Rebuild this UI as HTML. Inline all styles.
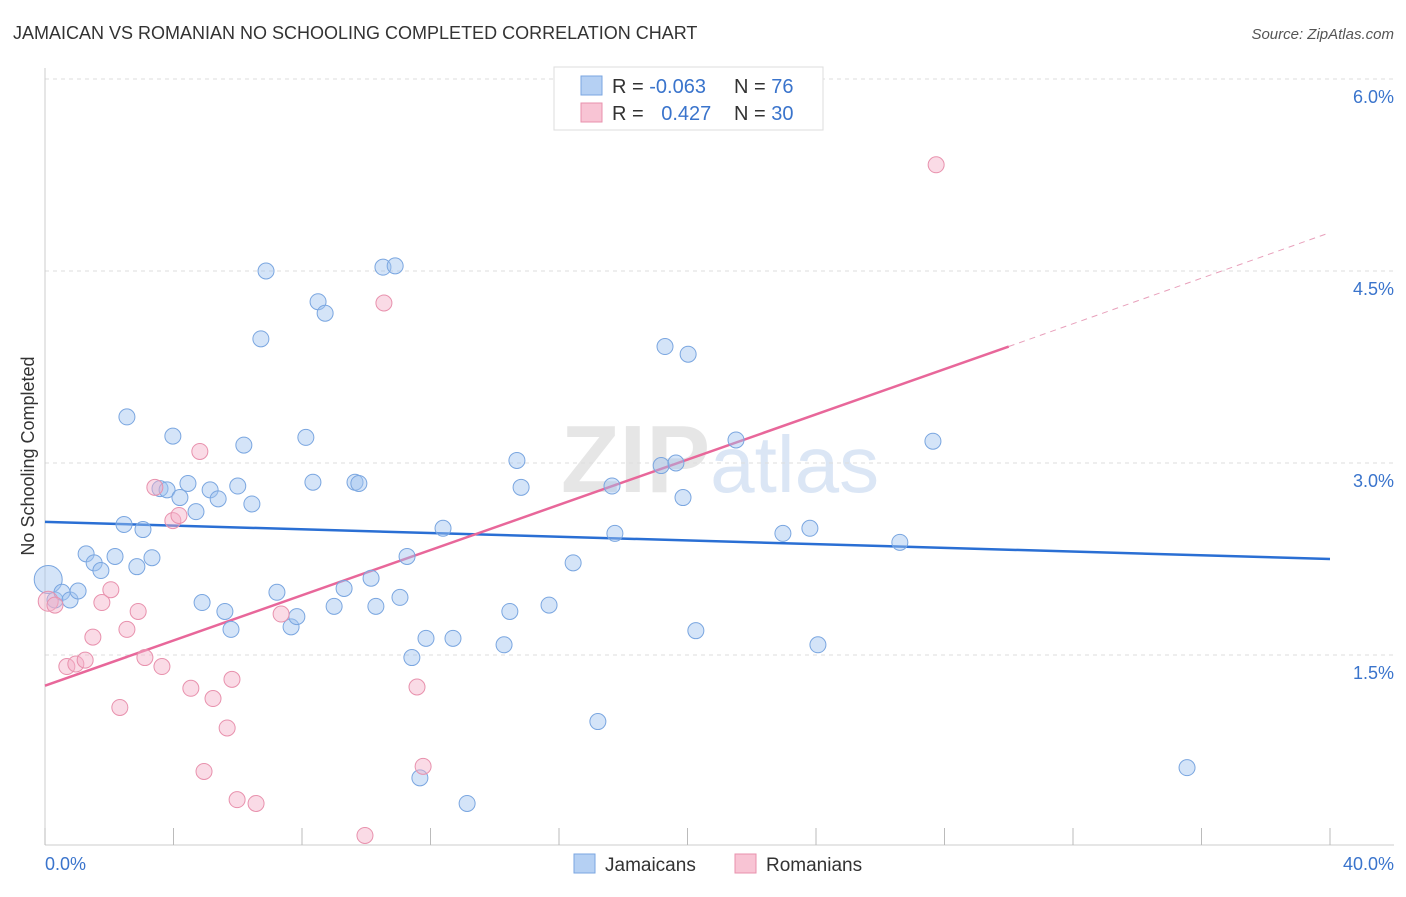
<!DOCTYPE html>
<html><head><meta charset="utf-8">
<style>
body{margin:0;background:#fff;font-family:"Liberation Sans",sans-serif;}
svg text{font-family:"Liberation Sans",sans-serif;}
</style></head>
<body>
<svg id="chart" width="1406" height="892" viewBox="0 0 1406 892" xmlns="http://www.w3.org/2000/svg">
<text x="13" y="39" font-size="18" fill="#333">JAMAICAN VS ROMANIAN NO SCHOOLING COMPLETED CORRELATION CHART</text>
<text x="1394" y="39" font-size="15" fill="#555" text-anchor="end" font-style="italic">Source: ZipAtlas.com</text>
<text x="720" y="492" font-size="96" text-anchor="middle" fill="#e6e6e6" font-family="Liberation Serif" font-weight="bold">ZIP<tspan fill="#dbe6f5" font-family="Liberation Sans" font-weight="normal" font-size="80">atlas</tspan></text>
<g id="grid"></g>
<g id="axes"></g>
<g id="trend"></g>
<g id="points"></g>
<text transform="translate(34,456) rotate(-90)" font-size="18" fill="#333" text-anchor="middle">No Schooling Completed</text>
<g>
<rect x="554" y="67" width="269" height="63" fill="#fff" stroke="#ddd"/>
<rect x="581" y="76" width="21" height="19" fill="#b5d0f3" stroke="#7aa6e0"/>
<rect x="581" y="103" width="21" height="19" fill="#f8c4d4" stroke="#e891ad"/>
<text x="612" y="93" font-size="20" fill="#333">R = <tspan fill="#3a74cc">-0.063</tspan></text>
<text x="734" y="93" font-size="20" fill="#333">N = <tspan fill="#3a74cc"> 76</tspan></text>
<text x="612" y="120" font-size="20" fill="#333">R = <tspan fill="#3a74cc" dx="12">0.427</tspan></text>
<text x="734" y="120" font-size="20" fill="#333">N = <tspan fill="#3a74cc">30</tspan></text>
</g>
<g>
<rect x="574" y="854" width="21" height="19" fill="#b5d0f3" stroke="#7aa6e0"/>
<text x="605" y="871" font-size="19" fill="#333">Jamaicans</text>
<rect x="735" y="854" width="21" height="19" fill="#f8c4d4" stroke="#e891ad"/>
<text x="766" y="871" font-size="19" fill="#333">Romanians</text>
</g>
</svg>
<script>
const blueX=[0.1,0.31,0.53,0.78,1.03,1.28,1.53,1.74,2.18,2.46,2.55,2.86,3.05,3.33,3.58,3.80,3.98,4.2,4.45,4.7,4.89,5.14,5.39,5.6,5.79,6.0,6.19,6.44,6.72,6.88,7.22,7.66,7.84,8.12,8.34,8.5,8.72,9.0,9.31,9.65,9.77,10.15,10.3,10.52,10.9,11.05,11.27,11.42,11.67,11.86,12.39,12.7,13.14,14.29,14.47,14.69,14.82,15.69,16.44,17.21,17.65,17.74,19.18,19.3,19.64,19.86,20.02,20.26,21.51,22.97,23.81,24.06,26.61,27.64,35.55];
const blueY=[2.09,1.93,1.99,1.93,2.0,2.29,2.22,2.16,2.27,2.52,3.36,2.19,2.48,2.26,2.80,2.79,3.21,2.73,2.84,2.62,1.91,2.79,2.72,1.84,1.70,2.82,3.14,2.68,3.97,4.5,1.99,1.72,1.80,3.2,2.85,4.26,4.17,1.88,2.02,2.85,2.84,2.10,1.88,4.53,4.54,1.95,2.27,1.48,0.54,1.63,2.49,1.63,0.34,1.58,1.84,3.02,2.81,1.89,2.22,0.98,2.82,2.45,2.98,3.91,3.0,2.73,3.85,1.69,3.18,2.45,2.49,1.58,2.38,3.17,0.62];
const pinkX=[0.1,0.31,0.68,0.96,1.25,1.49,1.77,2.05,2.33,2.55,2.9,3.11,3.42,3.64,3.98,4.17,4.54,4.82,4.95,5.23,5.67,5.82,5.98,6.57,7.35,9.96,10.55,11.58,11.77,27.74];
const pinkY=[1.92,1.89,1.41,1.43,1.46,1.64,1.91,2.01,1.09,1.70,1.84,1.48,2.81,1.41,2.55,2.59,1.24,3.09,0.59,1.16,0.93,1.31,0.37,0.34,1.82,0.09,4.25,1.25,0.63,5.33];
const blueTrend=[[0,2.54],[40,2.25]];
const pinkTrend=[[0,1.26],[30,3.91]];
const pinkDash=[[30,3.91],[40,4.80]];
const yTicks=[1.5,3.0,4.5,6.0];
const yTickLabels=["1.5%","3.0%","4.5%","6.0%"];
const xTicks=[0,4,8,12,16,20,24,28,32,36,40];

const NS="http://www.w3.org/2000/svg";
const sx=v=>45+v*32.125;
const sy=v=>847-v*128;
function mk(tag,attrs,parent){const e=document.createElementNS(NS,tag);for(const k in attrs)e.setAttribute(k,attrs[k]);parent.appendChild(e);return e;}
const grid=document.getElementById('grid'),axes=document.getElementById('axes'),trend=document.getElementById('trend'),pts=document.getElementById('points');
yTicks.forEach((t,i)=>{
 const l=mk('line',{x1:45,x2:1394,y1:sy(t),y2:sy(t),stroke:'#ddd','stroke-dasharray':'4,4'},grid);
 
 
 const tx=mk('text',{x:1394,y:sy(t)+24,'font-size':18,fill:'#3a74cc','text-anchor':'end'},axes);
 tx.textContent=yTickLabels[i];
 
 
});
const ax=mk('line',{x1:45,x2:45,y1:68,y2:845,stroke:'#ccc'},axes);


const bx=mk('line',{x1:45,x2:1394,y1:845,y2:845,stroke:'#ccc'},axes);


xTicks.forEach(t=>{
 const l=mk('line',{x1:sx(t),x2:sx(t),y1:828,y2:845,stroke:'#bbb'},axes);
 
 
});
const xl=mk('text',{x:45,y:870,'font-size':18,fill:'#3a74cc'},axes);xl.textContent='0.0%';


const xr=mk('text',{x:1394,y:870,'font-size':18,fill:'#3a74cc','text-anchor':'end'},axes);xr.textContent='40.0%';



function line(seg,stroke,w,dash,name){const a={x1:sx(seg[0][0]),y1:sy(seg[0][1]),x2:sx(seg[1][0]),y2:sy(seg[1][1]),stroke:stroke,'stroke-width':w};if(dash)a['stroke-dasharray']=dash;const l=mk('line',a,trend);
 
 }
blueX.forEach((x,i)=>{const c=mk('circle',{cx:sx(x),cy:sy(blueY[i]),r:i===0?14:8,fill:'rgba(160,195,240,0.45)',stroke:'#7aa6e0','stroke-width':1},pts);
 
 });
pinkX.forEach((x,i)=>{const c=mk('circle',{cx:sx(x),cy:sy(pinkY[i]),r:i===0?10:8,fill:'rgba(245,175,200,0.45)',stroke:'#e891ad','stroke-width':1},pts);
 
 });
line(blueTrend,'#2a6fd4',2.5,null,'jamaican-trendline');
line(pinkTrend,'#e8679a',2.5,null,'romanian-trendline');
line(pinkDash,'#e8a0bb',1,'6,5','romanian-trendline-extension');
</script>
</body></html>
